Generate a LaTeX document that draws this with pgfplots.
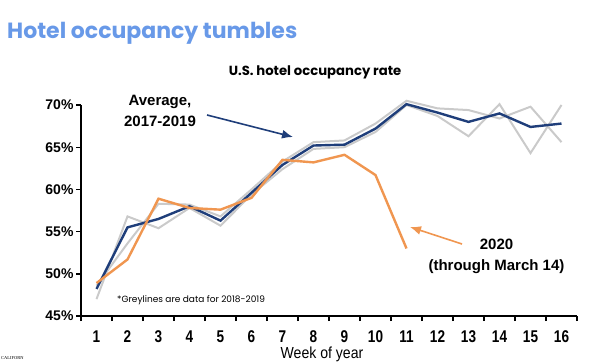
\documentclass[border=0pt]{standalone}
\usepackage{fontspec}
\setmainfont{Liberation Sans}
\newfontfamily\gothic{Poppins}
\newfontfamily\serifx{Liberation Serif}
\usepackage{graphicx}
\usepackage{pgfplots}
\pgfplotsset{compat=1.18}
\usetikzlibrary{arrows.meta}
\definecolor{avgblue}{RGB}{31,62,122}
\definecolor{orng}{RGB}{240,150,80}
\definecolor{greyl}{RGB}{202,202,202}
\definecolor{titleblue}{RGB}{104,153,232}
\newcommand\nx[1]{\scalebox{0.8}[1]{#1}}
\begin{document}
\begin{tikzpicture}[x=1pt,y=1pt]
\useasboundingbox (0,0) rectangle (600,362);
\begin{axis}[
  at={(81pt,46pt)}, anchor=south west,
  scale only axis, width=496pt, height=211pt,
  xmin=0.5, xmax=16.5, ymin=45, ymax=70,
  axis x line=bottom, axis y line=left,
  axis line style={line width=1.6pt, -},
  xtick={1,...,16},
  xticklabels={\nx{1},\nx{2},\nx{3},\nx{4},\nx{5},\nx{6},\nx{7},\nx{8},\nx{9},\nx{10},\nx{11},\nx{12},\nx{13},\nx{14},\nx{15},\nx{16}},
  major x tick style={draw=none},
  minor xtick={0.5,1.5,...,16.5},
  ytick={45,50,...,70},
  yticklabels={45\%,50\%,55\%,60\%,65\%,70\%},
  tick align=outside,
  major tick length=5pt, minor tick length=5pt,
  tick style={line width=1.4pt, black},
  xticklabel style={font=\fontsize{17}{17}\selectfont\bfseries, yshift=-6pt},
  yticklabel style={font=\fontsize{14}{14}\selectfont\bfseries, xshift=1pt},
  clip=false,
]
\addplot[greyl, line width=2pt] coordinates {(1,47.0) (2,56.8) (3,55.4) (4,57.8) (5,55.7) (6,59.4) (7,62.4) (8,64.8) (9,65.0) (10,66.8) (11,70.0) (12,68.7) (13,66.3) (14,70.1) (15,64.3) (16,70.0)};
\addplot[greyl, line width=2pt] coordinates {(1,48.6) (2,53.6) (3,58.3) (4,58.2) (5,56.8) (6,60.0) (7,63.3) (8,65.6) (9,65.8) (10,67.8) (11,70.5) (12,69.6) (13,69.4) (14,68.4) (15,69.8) (16,65.6)};
\addplot[avgblue, line width=2.4pt] coordinates {(1,48.2) (2,55.5) (3,56.5) (4,58.0) (5,56.3) (6,59.6) (7,62.9) (8,65.2) (9,65.3) (10,67.2) (11,70.1) (12,69.1) (13,68.0) (14,69.0) (15,67.4) (16,67.8)};
\addplot[orng, line width=2.4pt] coordinates {(1,48.9) (2,51.7) (3,58.9) (4,57.8) (5,57.6) (6,59.0) (7,63.5) (8,63.2) (9,64.1) (10,61.7) (11,53.0)};
\end{axis}
\draw[avgblue, line width=1.6pt, -{Latex[length=11pt,width=9pt]}] (207,247) -- (293,225);
\draw[orng, line width=1.6pt, -{Latex[length=11pt,width=9pt]}] (462,118) -- (410,135);
\node[align=center, font=\fontsize{15}{21}\selectfont\bfseries] at (160,251) {Average,\\2017-2019};
\node[align=center, font=\fontsize{15}{21}\selectfont\bfseries] at (496.5,106) {2020\\(through March 14)};
\node[anchor=base west, inner sep=0, font=\gothic\bfseries\fontsize{22}{22}\selectfont, text=titleblue] at (7,323) {Hotel occupancy tumbles};
\node[font=\gothic\bfseries\fontsize{13.2}{13.2}\selectfont] at (315,290) {U.S. hotel occupancy rate};
\node[anchor=west, inner sep=0, font=\gothic\fontsize{9}{9}\selectfont] at (117,62) {*Greylines are data for 2018-2019};
\node[font=\fontsize{16}{16}\selectfont] at (322,8) {\scalebox{0.88}[1]{Week of year}};
\node[anchor=west, inner sep=0, font=\serifx\fontsize{4.5}{4.5}\selectfont] at (1,3.5) {CALIFORN};
\end{tikzpicture}
\end{document}
